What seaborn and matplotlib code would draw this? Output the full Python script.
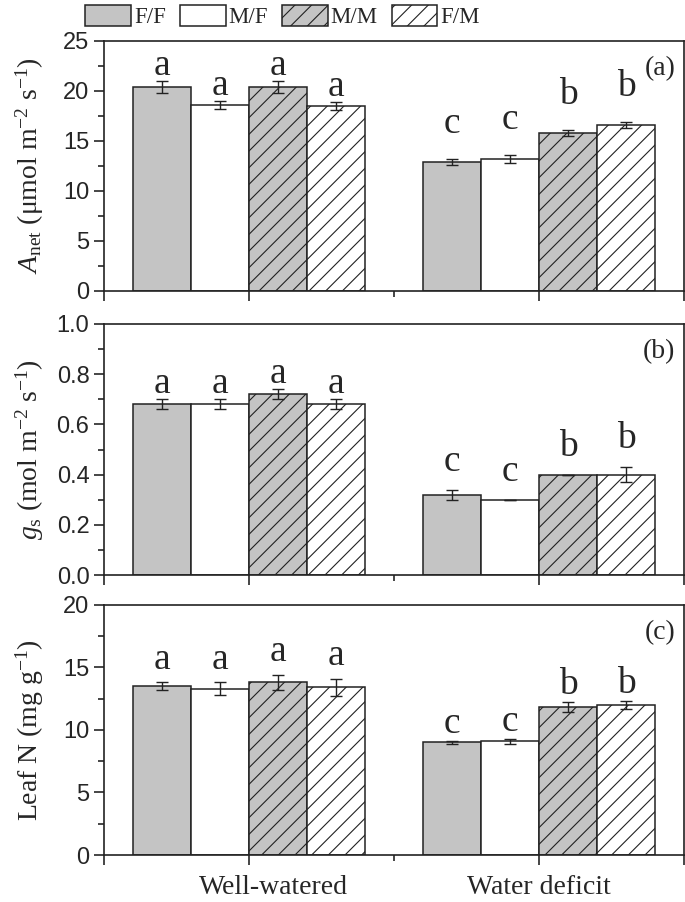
import numpy as np
import pandas as pd
import matplotlib.pyplot as plt
import matplotlib.transforms as mtransforms
from matplotlib.ticker import MultipleLocator, FixedLocator
import seaborn as sns

# data
conditions = ['Well-watered', 'Water deficit']
grafts = ['F/F', 'M/F', 'M/M', 'F/M']

anet_ww = [20.4, 18.6, 20.4, 18.5]
anet_wd = [12.9, 13.2, 15.8, 16.6]
anet_err_ww = [0.6, 0.4, 0.6, 0.4]
anet_err_wd = [0.3, 0.4, 0.3, 0.3]
anet_let_ww = ['a', 'a', 'a', 'a']
anet_let_wd = ['c', 'c', 'b', 'b']

gs_ww = [0.68, 0.68, 0.72, 0.68]
gs_wd = [0.32, 0.30, 0.40, 0.40]
gs_err_ww = [0.02, 0.02, 0.02, 0.02]
gs_err_wd = [0.02, 0.0, 0.0, 0.03]
gs_let_ww = ['a', 'a', 'a', 'a']
gs_let_wd = ['c', 'c', 'b', 'b']

leafn_ww = [13.5, 13.3, 13.8, 13.4]
leafn_wd = [9.0, 9.1, 11.8, 12.0]
leafn_err_ww = [0.3, 0.5, 0.6, 0.7]
leafn_err_wd = [0.1, 0.2, 0.4, 0.3]
leafn_let_ww = ['a', 'a', 'a', 'a']
leafn_let_wd = ['c', 'c', 'b', 'b']

face_colors = ['#c4c4c4', 'white', '#c4c4c4', 'white']
hatches = ['', '', '//', '//']

sns.set_theme(style='ticks')
plt.rcParams['font.family'] = ['Liberation Serif', 'DejaVu Serif']
plt.rcParams['mathtext.fontset'] = 'custom'
plt.rcParams['mathtext.rm'] = 'Liberation Serif'
plt.rcParams['mathtext.it'] = 'Liberation Serif:italic'
plt.rcParams['hatch.linewidth'] = 0.8
plt.rcParams['hatch.color'] = '#222222'


def make_df(ww, wd, err_ww, err_wd, let_ww, let_wd):
    rows = []
    for cond, vals, errs, lets in [(conditions[0], ww, err_ww, let_ww),
                                   (conditions[1], wd, err_wd, let_wd)]:
        for g, v, e, l in zip(grafts, vals, errs, lets):
            rows.append({'condition': cond, 'graft': g, 'value': v, 'err': e, 'letter': l})
    return pd.DataFrame(rows)


# (data, y label, y max, major step, minor step, letter gap per condition, tag)
panels = [
    (make_df(anet_ww, anet_wd, anet_err_ww, anet_err_wd, anet_let_ww, anet_let_wd),
     r'$A_{\rm net}$ (μmol m$^{-2}$ s$^{-1}$)', 25, 5, 2.5, (0.6, 2.6), '(a)'),
    (make_df(gs_ww, gs_wd, gs_err_ww, gs_err_wd, gs_let_ww, gs_let_wd),
     r'$g_{\rm s}$ (mol m$^{-2}$ s$^{-1}$)', 1.0, 0.2, 0.1, (0.025, 0.075), '(b)'),
    (make_df(leafn_ww, leafn_wd, leafn_err_ww, leafn_err_wd, leafn_let_ww, leafn_let_wd),
     r'Leaf N (mg g$^{-1}$)', 20, 5, 2.5, (1.1, 0.65), '(c)'),
]

fig = plt.figure(figsize=(6.85, 9.02), dpi=100)
boxes = [(0.1518, 0.6774, 0.8467, 0.2772),
         (0.1518, 0.3625, 0.8467, 0.2783),
         (0.1518, 0.0521, 0.8467, 0.2772)]

legend_handles = None
for i, (df, ylabel, ymax, major, minor, pads, tag) in enumerate(panels):
    ax = fig.add_axes(boxes[i])
    sns.barplot(data=df, x='condition', y='value', hue='graft', order=conditions,
                hue_order=grafts, palette=face_colors, edgecolor='#222222',
                linewidth=1.1, errorbar=None, legend=False, ax=ax, saturation=1)
    bar_containers = list(ax.containers)
    for cont, hatch in zip(bar_containers, hatches):
        for p in cont.patches:
            p.set_hatch(hatch)
    if legend_handles is None:
        legend_handles = [c.patches[0] for c in bar_containers]

    # error bars and letters at the bar centres
    for cont, g in zip(bar_containers, grafts):
        sub = df[df['graft'] == g].set_index('condition').loc[conditions]
        xs = [p.get_x() + p.get_width() / 2 for p in cont.patches]
        hs = [p.get_height() for p in cont.patches]
        ax.errorbar(xs, hs, yerr=sub['err'].values, fmt='none', ecolor='#222222',
                    elinewidth=1, capsize=4.3, capthick=1, zorder=5)
        for x, h, e, l, pad in zip(xs, hs, sub['err'].values, sub['letter'].values, pads):
            ax.text(x, h + e + pad, l, ha='center', va='baseline', fontsize=27)

    ax.set_xlim(-0.5, 1.5)
    ax.set_ylim(0, ymax)
    ax.yaxis.set_major_locator(MultipleLocator(major))
    ax.yaxis.set_minor_locator(MultipleLocator(minor))
    ax.xaxis.set_major_locator(FixedLocator([-0.5, 0, 1, 1.5]))
    ax.xaxis.set_minor_locator(FixedLocator([0.5]))
    ax.tick_params(axis='both', which='major', direction='out', length=7, width=1.2)
    ax.tick_params(axis='both', which='minor', direction='out', length=4, width=1.2)
    ax.tick_params(axis='y', labelsize=17)
    for lab in ax.get_yticklabels():
        lab.set_family('Liberation Sans')
    if ymax == 1.0:
        ax.yaxis.set_major_formatter(plt.FormatStrFormatter('%.1f'))
    for s in ax.spines.values():
        s.set_visible(True)
        s.set_linewidth(1.2)
        s.set_color('#222222')
    ax.set_ylabel(ylabel, fontsize=20)
    ax.yaxis.set_label_coords(-0.1, 0.5)
    ax.set_xlabel('')
    ax.set_xticklabels([])
    ax.text(0.985, 0.89, tag, transform=ax.transAxes, ha='right', va='center', fontsize=20)
    if i == 2:
        shifts = [0.24, 0.0]
        for k, (cond, dx) in enumerate(zip(conditions, shifts)):
            tr = ax.get_xaxis_transform() + mtransforms.ScaledTranslation(dx, 0, fig.dpi_scale_trans)
            ax.text(k, -0.128, cond, transform=tr, ha='center', va='center', fontsize=20)

fig.legend(legend_handles, grafts, loc='upper left', bbox_to_anchor=(0.118, 1.0),
           ncol=4, frameon=False, fontsize=16.5, handlelength=2.0, handleheight=1.09,
           handletextpad=0.13, columnspacing=0.6, borderaxespad=0.1, borderpad=0.1)

fig.savefig('out.png', dpi=100)
